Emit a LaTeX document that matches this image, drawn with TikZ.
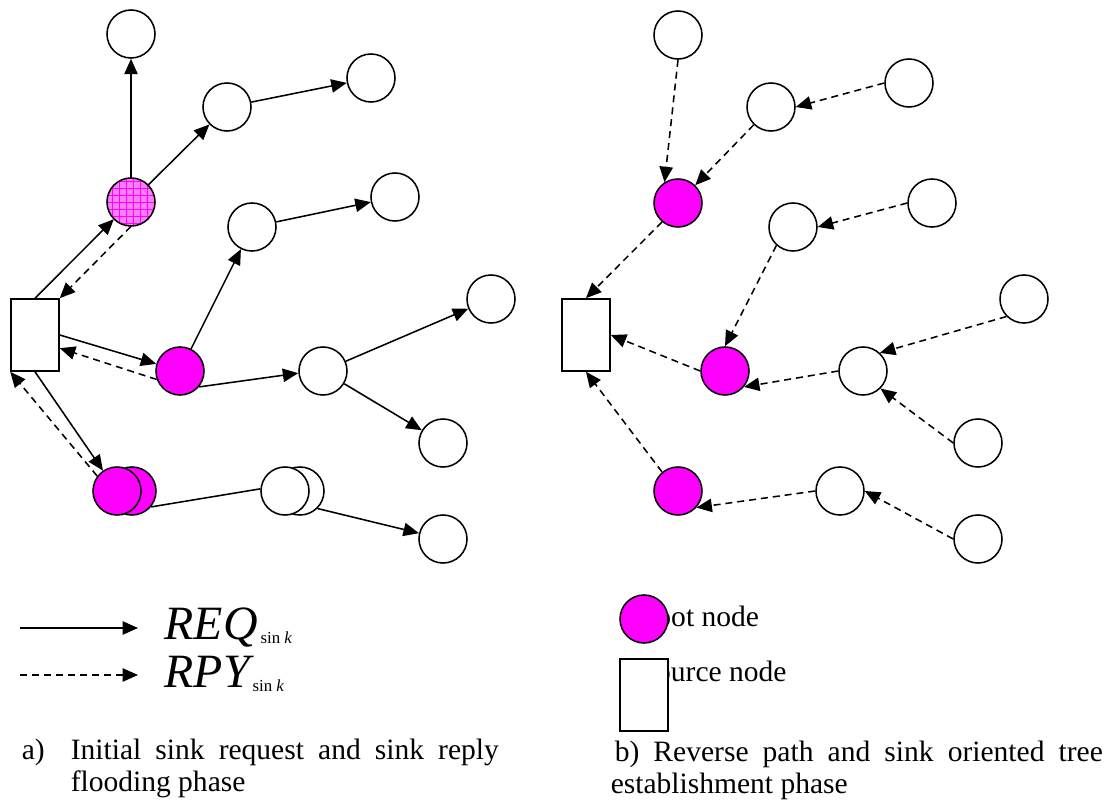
\documentclass[tikz,border=0pt]{standalone}
\usepackage{fontspec}
\setmainfont{Liberation Serif}
\usetikzlibrary{arrows.meta, shapes, positioning, patterns.meta}
\definecolor{rootmag}{RGB}{255,0,255}
\definecolor{rootpink}{RGB}{250,125,250}

\begin{document}
\begin{tikzpicture}[x=0.025cm, y=-0.025cm, line width=1.1pt,
        sensor/.style={circle, draw, fill=white, minimum size=1.2cm, inner sep=0pt},
        root/.style={sensor, fill=rootmag},
        hatched/.style={sensor, preaction={fill=rootpink}, pattern={Hatch[angle=0, distance=5pt, line width=.5pt]}, pattern color=rootmag},
        source/.style={rectangle, draw, fill=white, minimum width=1.2cm, minimum height=1.8cm, inner sep=0pt},
        req/.style={-{Triangle[length=11pt, width=9.5pt]}},
        rpy/.style={req, dash pattern=on 5pt off 3.5pt},
        lbl/.style={inner sep=0pt, anchor=base west, font=\fontsize{21}{23}\selectfont}]
        \useasboundingbox (0,0) rectangle (1104,800);

        % a) request and reply flooding
        \node[source] (asrc) at (35,335) {};
        \node[hatched] (aroot1) at (131,202) {};
        \node[sensor] (at1) at (131,34) {};
        \node[sensor] (at2) at (227,107) {};
        \node[sensor] (at3) at (371,78) {};
        \node[root] (aroot2) at (180,371) {};
        \node[sensor] (am1) at (252,227) {};
        \node[sensor] (am2) at (395,197) {};
        \node[sensor] (am3) at (323,371) {};
        \node[sensor] (am4) at (491,299) {};
        \node[sensor] (am5) at (443,443) {};
        \node[root] (aroot3b) at (132,491) {};
        \node[root] (aroot3) at (117,491) {};
        \node[sensor] (ab1b) at (300,491) {};
        \node[sensor] (ab1) at (285,491) {};
        \node[sensor] (ab2) at (443,539) {};

          \path[req] (asrc.north) edge (aroot1)
                     (aroot1) edge (at1)
                              edge (at2)
                     (at2) edge (at3)
                     (asrc.east) edge (aroot2)
                     (aroot2) edge (am1)
                     (am1) edge (am2)
                     (aroot2.-40) edge (am3.185)
                     (am3) edge (am4)
                           edge (am5)
                     (asrc.south) edge (aroot3)
                     (ab1b.-45) edge (ab2);
          \draw (aroot3b.-40) -- (ab1.175);
          \path[rpy] (aroot1.south) edge (asrc.north east)
                     (aroot2.200) edge (asrc.-28)
                     (aroot3.143) edge (asrc.south west);

        % b) reverse path
        \node[source] (bsrc) at (586,335) {};
        \node[sensor] (bt1) at (678,35) {};
        \node[sensor] (bt2) at (771,107) {};
        \node[sensor] (bt3) at (909,83) {};
        \node[root] (broot1) at (678,203) {};
        \node[sensor] (bm1) at (793,227) {};
        \node[sensor] (bm2) at (932,203) {};
        \node[root] (broot2) at (725,371) {};
        \node[sensor] (bm3) at (863,371) {};
        \node[sensor] (bm4) at (1024,299) {};
        \node[sensor] (bm5) at (978,443) {};
        \node[root] (broot3) at (678,491) {};
        \node[sensor] (bb1) at (840,491) {};
        \node[sensor] (bb2) at (978,539) {};

          \path[rpy] (bt1.south) edge (broot1.123)
                     (bt2) edge (broot1)
                     (bt3.west) edge (bt2.east)
                     (broot1.-130) edge (bsrc.north)
                     (bm2.west) edge (bm1.east)
                     (bm1.-132) edge (broot2.north)
                     (broot2.west) edge (bsrc.east)
                     (bm3.west) edge (broot2.-40)
                     (bm4.-135) edge (bm3.47)
                     (bm5.west) edge (bm3.-45)
                     (broot3.130) edge (bsrc.south)
                     (bb1.west) edge (broot3.-42)
                     (bb2.west) edge (bb1.east);

        % legend
        \coordinate (req0) at (20,628);
        \coordinate (req1) at (138,628);
        \coordinate (rpy0) at (20,675);
        \coordinate (rpy1) at (138,675);
        \path[req] (req0) edge (req1);
        \path[rpy] (rpy0) edge (rpy1);
        \node[lbl, font=\fontsize{34}{38}\selectfont\itshape] (reqtxt) at (164,639)
            {REQ\raisebox{-3pt}{\fontsize{12}{14}\selectfont\upshape\,sin \itshape k}};
        \node[lbl, font=\fontsize{34}{38}\selectfont\itshape] (rpytxt) at (164,687)
            {RPY\raisebox{-3pt}{\fontsize{12}{14}\selectfont\upshape\,sin \itshape k}};

        \node[lbl] (roottxt) at (636,626) {Root node};
        \node[root] (rootkey) at (644,619) {};
        \node[lbl] (srctxt) at (639,681) {Source node};
        \node[source] (srckey) at (644,695) {};

        % captions
        \node[lbl] (capa) at (21,759) {a)};
        \node[lbl] (capa1) at (70,759) {\makebox[10.7cm][s]{Initial sink request and sink reply}};
        \node[lbl] (capa2) at (70,791) {flooding phase};
        \node[lbl] (capb1) at (614,761) {\makebox[12.2cm][s]{b) Reverse path and sink oriented tree}};
        \node[lbl] (capb2) at (610,793) {establishment phase};
    \end{tikzpicture}
\end{document}
